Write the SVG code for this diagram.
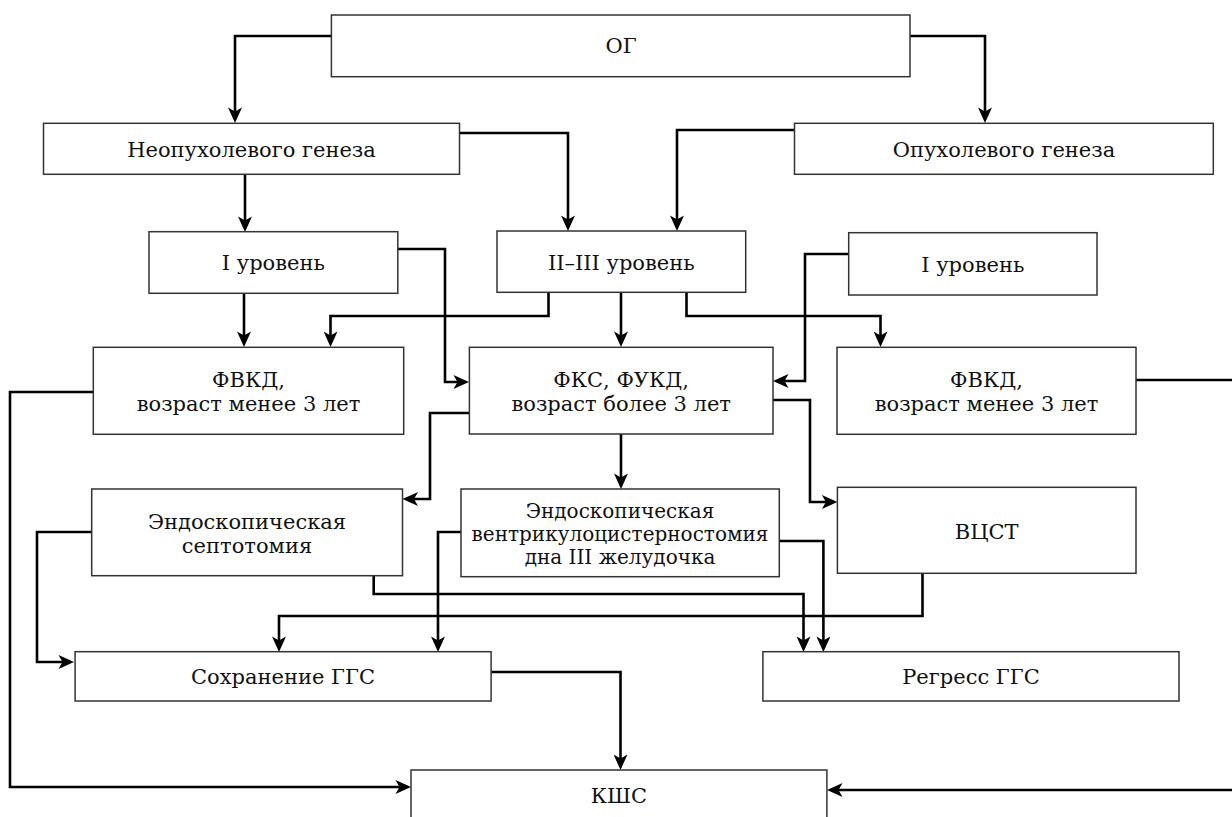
<svg xmlns="http://www.w3.org/2000/svg" width="1232" height="817" viewBox="0 0 1232 817">
<style>
.box{fill:#fff;stroke:#333;stroke-width:1.5}
.t{font-family:"DejaVu Serif","Liberation Serif",serif;font-size:21px;fill:#111;text-anchor:middle}
.s{font-size:20px}
.c{fill:none;stroke:#000;stroke-width:2.6;marker-end:url(#arr)}
</style>
<defs>
<marker id="arr" markerUnits="userSpaceOnUse" viewBox="-8 -7 17 14" markerWidth="17" markerHeight="14" refX="0" refY="0" orient="auto">
<path d="M8,0 L-7.5,-7 L-3.5,0 L-7.5,7 Z" fill="#000"/>
</marker>
</defs>
<rect width="1232" height="817" fill="#fff"/>
<g id="connectors">
<path class="c" d="M331,36 H235 V115"/>
<path class="c" d="M910,36 H985 V115"/>
<path class="c" d="M245,174 V224"/>
<path class="c" d="M459.5,133 H568 V223"/>
<path class="c" d="M794.5,130 H677 V223"/>
<path class="c" d="M244,293 V339"/>
<path class="c" d="M398,249 H445 V382 H461"/>
<path class="c" d="M548.5,292 V316 H330.5 V339"/>
<path class="c" d="M621,292 V339"/>
<path class="c" d="M686.5,292 V316 H880.5 V339"/>
<path class="c" d="M848.7,254 H805 V381 H781"/>
<path class="c" d="M93.3,392 H10 V787 H403"/>
<path class="c" d="M1136,380 H1240 V790 H835"/>
<path class="c" d="M469.4,413 H430 V499 H410.5"/>
<path class="c" d="M621,434 V481"/>
<path class="c" d="M773,400 H810 V502 H829.4"/>
<path class="c" d="M91.7,532 H37 V662 H66"/>
<path class="c" d="M373.7,576 V594 H803.5 V644"/>
<path class="c" d="M461,532 H438 V644"/>
<path class="c" d="M779.3,541 H823.4 V644"/>
<path class="c" d="M922.5,573 V616 H279 V644"/>
<path class="c" d="M491,672 H620.5 V762"/>
</g>
<g id="og"><rect class="box" x="331.4" y="15" width="578.6" height="61.7"/><text class="t" x="621" y="53">ОГ</text></g>
<g id="neo"><rect class="box" x="43.5" y="123.3" width="416" height="51"/><text class="t" x="251.5" y="157">Неопухолевого генеза</text></g>
<g id="opukh"><rect class="box" x="794.5" y="123.3" width="418.8" height="51"/><text class="t" x="1004" y="157">Опухолевого генеза</text></g>
<g id="lvl1-left"><rect class="box" x="149" y="231.7" width="248.8" height="61.6"/><text class="t" x="273.4" y="270">I уровень</text></g>
<g id="lvl23"><rect class="box" x="497" y="231" width="248.7" height="61.3"/><text class="t" x="621.3" y="270">II–III уровень</text></g>
<g id="lvl1-right"><rect class="box" x="848.7" y="232.7" width="248.3" height="62.3"/><text class="t" x="972.8" y="272">I уровень</text></g>
<g id="fvkd-left"><rect class="box" x="93.3" y="347.3" width="310.4" height="87"/><text class="t" x="248.5" y="387">ФВКД,</text><text class="t" x="248.5" y="410.7">возраст менее 3 лет</text></g>
<g id="fks"><rect class="box" x="469.4" y="347.3" width="303.6" height="86.7"/><text class="t" x="621.2" y="386.7">ФКС, ФУКД,</text><text class="t" x="621.2" y="410.7">возраст более 3 лет</text></g>
<g id="fvkd-right"><rect class="box" x="837" y="347.3" width="299" height="87"/><text class="t" x="986.5" y="387">ФВКД,</text><text class="t" x="986.5" y="410.7">возраст менее 3 лет</text></g>
<g id="septo"><rect class="box" x="91.7" y="489" width="310.8" height="86.7"/><text class="t" x="247" y="529">Эндоскопическая</text><text class="t" x="247" y="552.5">септотомия</text></g>
<g id="etv"><rect class="box" x="461" y="489" width="318.3" height="87.7"/><text class="t s" x="620" y="518">Эндоскопическая</text><text class="t s" x="620" y="541">вентрикулоцистерностомия</text><text class="t s" x="620" y="564">дна III желудочка</text></g>
<g id="vcst"><rect class="box" x="837.4" y="487.3" width="298.6" height="86"/><text class="t" x="986.7" y="539.3">ВЦСТ</text></g>
<g id="sohr"><rect class="box" x="75.1" y="651.7" width="416" height="49.3"/><text class="t" x="283" y="684">Сохранение ГГС</text></g>
<g id="regress"><rect class="box" x="762.9" y="651.7" width="416.1" height="49.3"/><text class="t" x="971" y="684">Регресс ГГС</text></g>
<g id="kshs"><rect class="box" x="411" y="770" width="415.9" height="60"/><text class="t" x="619" y="802.7">КШС</text></g>
</svg>
